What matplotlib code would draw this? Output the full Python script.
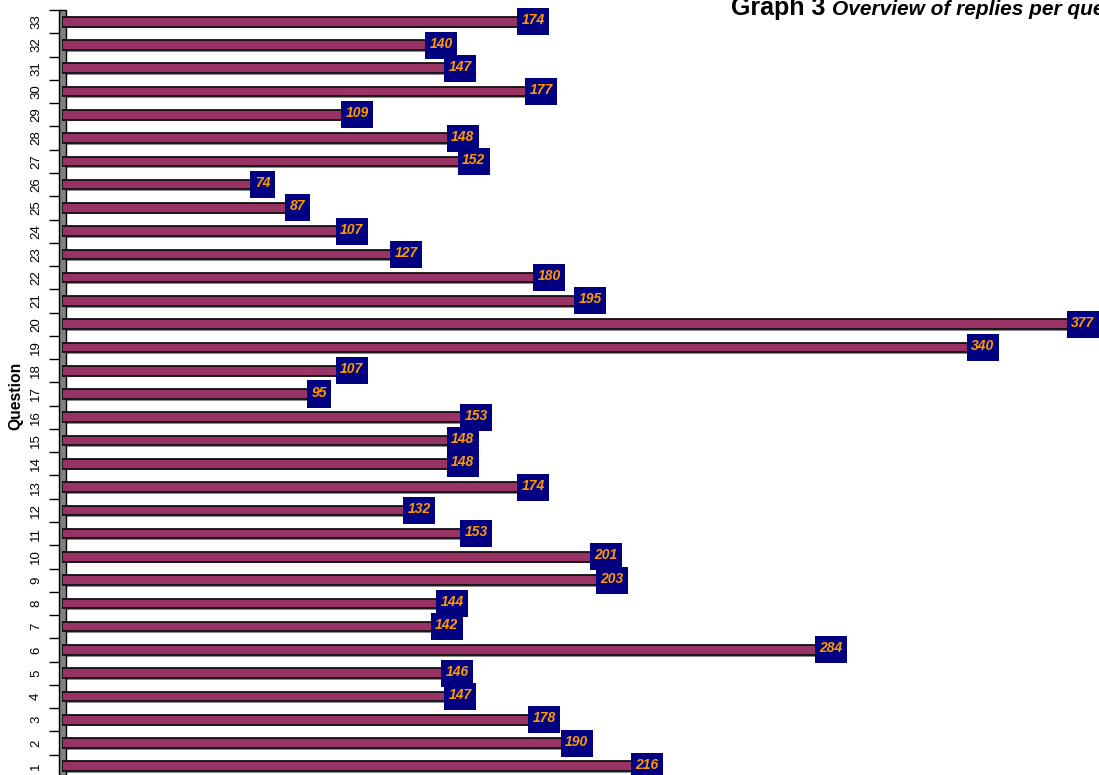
import matplotlib
matplotlib.use("Agg")
import matplotlib.pyplot as plt
from matplotlib.patches import Rectangle

plt.rcParams['font.family'] = ['Liberation Sans', 'DejaVu Sans']

questions = list(range(1, 34))
replies = [216, 190, 178, 147, 146, 284, 142, 144, 203, 201, 153, 132, 174, 148, 148,
           153, 95, 107, 340, 377, 195, 180, 127, 107, 87, 74, 152, 148, 109, 177, 147, 140, 174]
title_main = "Graph 3"
title_sub = "Overview of replies per question"
ylabel = "Question"

W, H = 1099, 775
fig = plt.figure(figsize=(W / 100, H / 100), dpi=100)
ax_left_px, ax_top_px, ax_bottom_px = 62, 10.1, 777.9
ax = fig.add_axes([ax_left_px / W, 1 - ax_bottom_px / H,
                   (W - ax_left_px) / W, (ax_bottom_px - ax_top_px) / H])

px_per_x = 2.708
xmax = (W - ax_left_px) / px_per_x
px_per_y = (ax_bottom_px - ax_top_px) / 33.0

ax.set_xlim(0, xmax)
ax.set_ylim(0.5, 33.5)

bar_color = '#993366'
bar_h = 0.41
# shadow
ax.barh([q - 1.8 / px_per_y for q in questions], replies, height=bar_h, left=0,
        color='#8c8c8c', edgecolor='none', zorder=2)
ax.barh(questions, replies, height=bar_h, color=bar_color, edgecolor='#111111',
        linewidth=1.3, zorder=3)

# wall
wall = Rectangle((-3 / px_per_x, 0), 7 / px_per_x, 1, transform=ax.get_xaxis_transform(),
                 facecolor='#808080', edgecolor='black', linewidth=1.0, clip_on=False, zorder=2.6)
ax.add_patch(wall)

fs = 10
fs_px = fs * 100 / 72
box_h = 27 / px_per_y
for q, v in zip(questions, replies):
    s = str(v)
    w_px = len(s) * 0.556 * fs_px + 8.8
    w = w_px / px_per_x
    ax.add_patch(Rectangle((v - w / 2, q - box_h / 2), w, box_h, facecolor='#000080',
                           edgecolor='none', zorder=5, clip_on=False))
    ax.text(v, q + 1.5 / px_per_y, s, ha='center', va='center', fontsize=fs,
            fontweight='bold', fontstyle='italic', color='#FF9900', zorder=6, clip_on=False)

for sp in ax.spines.values():
    sp.set_visible(False)
ax.set_xticks([])
ax.set_yticks([k + 0.5 for k in range(34)])
ax.set_yticklabels([])
ax.set_yticks(questions, minor=True)
ax.set_yticklabels([str(q) for q in questions], minor=True)
ax.tick_params(axis='y', which='major', direction='out', length=9.4, width=1.0, color='black')
ax.tick_params(axis='y', which='minor', length=0, pad=14.4, labelsize=9.5, labelrotation=90)
for lab in ax.get_yticklabels(minor=True):
    lab.set_va('center')
    lab.set_ha('right')

fig.text(16 / W, 1 - 396 / H, ylabel, rotation=90, fontsize=11.3, fontweight='bold',
         ha='center', va='center')
fig.text(731 / W, 1 - 15 / H, title_main, fontsize=18, fontweight='bold', ha='left', va='baseline')
fig.text(832 / W, 1 - 15 / H, title_sub, fontsize=15, fontweight='bold', fontstyle='italic',
         ha='left', va='baseline')

fig.savefig('out.png', dpi=100)
